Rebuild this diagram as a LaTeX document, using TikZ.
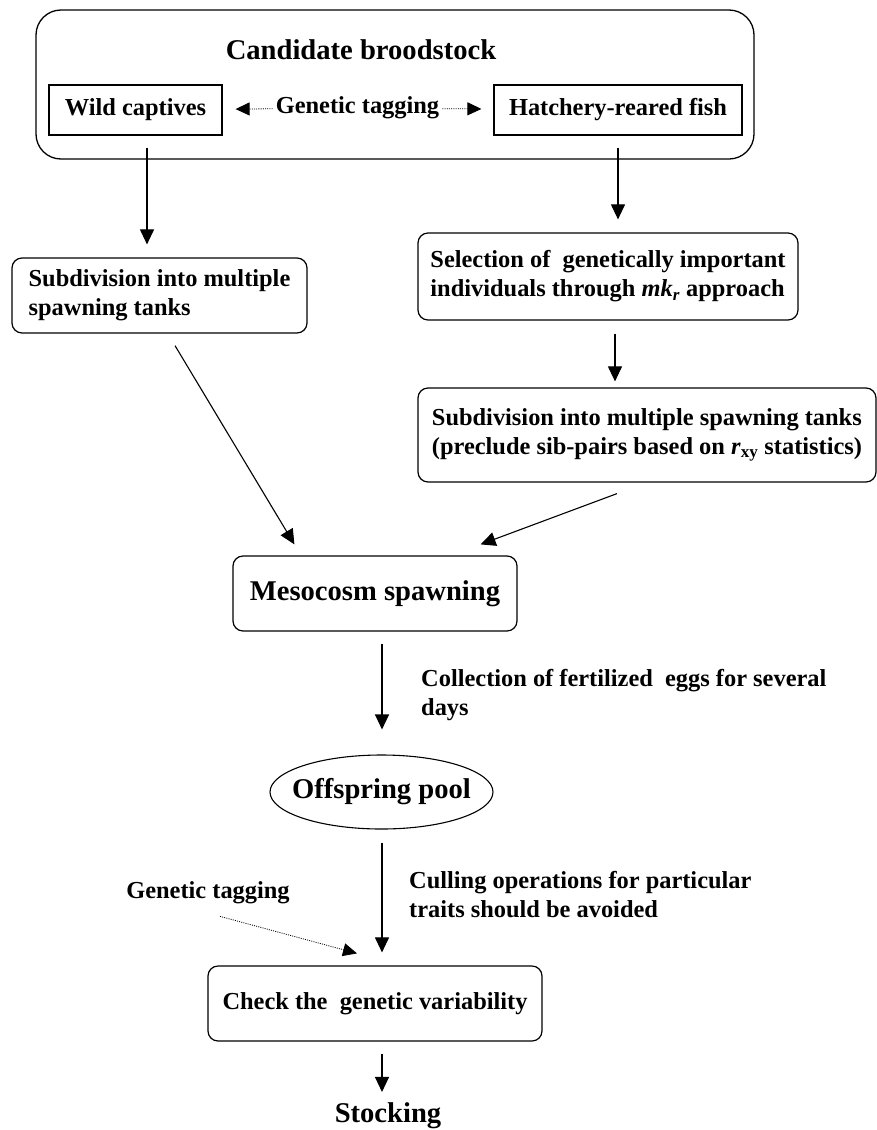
\documentclass[tikz,border=0pt]{standalone}
\usepackage{fontspec}
\setmainfont{Liberation Serif}
\usetikzlibrary{arrows.meta,shapes.geometric}
\newcommand\bodyfont{\bfseries\fontsize{24.4}{29}\selectfont}
\newcommand\headfont{\bfseries\fontsize{28.6}{33}\selectfont}
\tikzset{
  group/.style={draw,rounded corners=25pt,line width=1.3pt,inner sep=0pt},
  box/.style={draw,rounded corners=10pt,line width=1.2pt,align=left,inner sep=0pt,font=\bodyfont},
  plainbox/.style={draw,line width=1.2pt,inner sep=0pt,font=\bodyfont},
  pool/.style={draw,ellipse,line width=1.1pt,inner sep=0pt,font=\headfont},
  note/.style={align=left,inner sep=3pt,font=\bodyfont},
  flow/.style={line width=1.1pt,-{Triangle[length=15pt,width=14pt]}},
  tagflow/.style={line width=0.8pt,dash pattern=on 1pt off 1.2pt,-{Triangle[length=14pt,width=13pt]}}
}
\begin{document}
\begin{tikzpicture}[x=1pt,y=-1pt]
  \useasboundingbox (0,0) rectangle (877,1130);
  % broodstock group
  \node [group,minimum width=718pt,minimum height=149pt] (brood) at (395,84.5) {};
  \node [anchor=base,inner sep=0pt,font=\headfont] (title) at (361,59) {Candidate broodstock};
  \node [plainbox,minimum width=173pt,minimum height=50pt] (wild) at (135.5,110) {Wild captives};
  \node [plainbox,minimum width=248pt,minimum height=50pt] (hatch) at (618,110) {Hatchery-reared fish};
  \node [note] (tag) at (357.5,108) {Genetic tagging};
  \draw [tagflow,shorten >=13pt] (tag) -- (wild);
  \draw [tagflow,shorten >=12pt] (tag) -- (hatch);
  % left branch
  \node [box,minimum width=295pt,minimum height=75pt] (subL) at (159.5,295.5) {Subdivision into multiple\\spawning tanks};
  % right branch
  \node [box,minimum width=380pt,minimum height=87pt] (sel) at (608,276.5)
    {Selection of\ \ genetically important\\individuals through \textit{mk}\textsubscript{\textit{r}} approach};
  \node [box,minimum width=458pt,minimum height=94pt] (subR) at (647,435)
    {Subdivision into multiple spawning tanks\\(preclude sib-pairs based on \textit{r}\textsubscript{xy} statistics)};
  % main line
  \node [box,font=\headfont,align=center,minimum width=284pt,minimum height=75pt] (meso) at (375,593.5) {Mesocosm spawning};
  \node [note,anchor=west] (collect) at (418,695) {Collection of fertilized\ \ eggs for several\\days};
  \node [pool,minimum width=223pt,minimum height=74pt] (offspring) at (381.5,792) {\makebox[0pt]{Offspring pool}};
  \node [note,anchor=west] (cull) at (406,895) {Culling operations for particular\\traits should be avoided};
  \node [note] (tag2) at (208,893) {Genetic tagging};
  \node [box,align=center,minimum width=334pt,minimum height=75pt] (check) at (375,1003.5) {Check the\ \ genetic variability};
  \node [anchor=base,inner sep=0pt,font=\headfont] (stock) at (388,1122) {Stocking};
  % arrows
  \draw [flow] ([xshift=11.5pt,yshift=-12pt]wild.south) -- ([xshift=-12.5pt,yshift=13pt]subL.north);
  \draw [flow] ([yshift=-12pt]hatch.south) -- ([xshift=10pt,yshift=13pt]sel.north);
  \draw [flow] ([xshift=7pt,yshift=-13pt]sel.south) -- ([xshift=-32pt,yshift=6pt]subR.north);
  \draw [flow] ([xshift=15.5pt,yshift=-12pt]subL.south) -- ([xshift=62pt,yshift=11pt]meso.north west);
  \draw [flow] ([xshift=-30pt,yshift=-11pt]subR.south) -- ([xshift=-37pt,yshift=11pt]meso.north east);
  \draw [flow] ([xshift=7pt,yshift=-12pt]meso.south) -- ([xshift=0.5pt,yshift=25pt]offspring.north);
  \draw [flow] ([xshift=0.5pt,yshift=-13pt]offspring.south) -- ([xshift=7pt,yshift=13pt]check.north);
  \draw [tagflow] ([xshift=12pt,yshift=-9pt]tag2.south) -- ([xshift=-18pt,yshift=12pt]check.north);
  \draw [flow] ([xshift=7pt,yshift=-12pt]check.south) -- ([xshift=-6pt,yshift=10pt]stock.north);
\end{tikzpicture}
\end{document}
